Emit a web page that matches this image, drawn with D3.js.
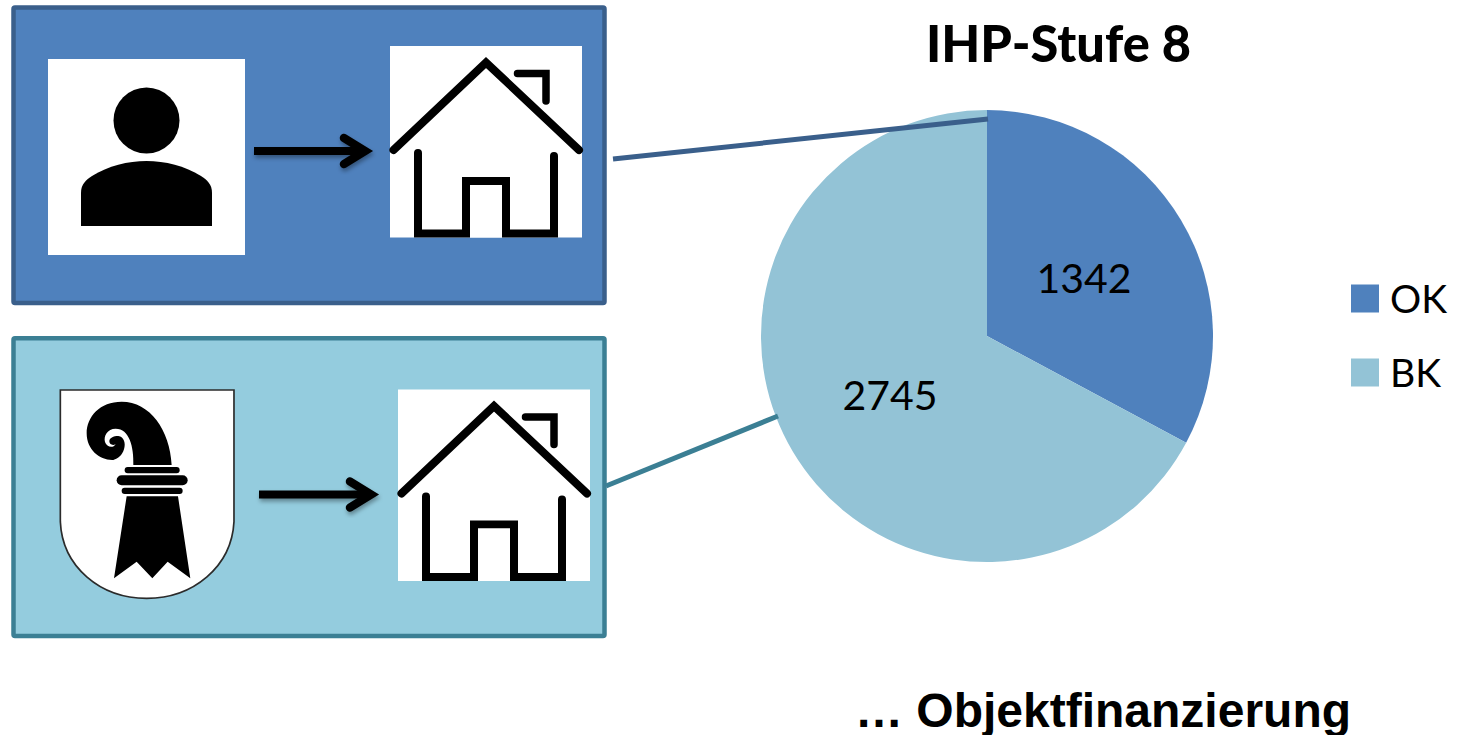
<!DOCTYPE html>
<html>
<head>
<meta charset="utf-8">
<script src="https://cdn.jsdelivr.net/npm/d3@7"></script>
<style>
  html, body { margin: 0; padding: 0; background: #fff; overflow: hidden; }
  svg { display: block; }
</style>
</head>
<body>
<svg width="1462" height="735"></svg>
<script>
var categories = ["OK", "BK"];
var values = [1342, 2745];
var colors = ["#4f81bd", "#93c3d6"];

var svg = d3.select("svg");

var defs = svg.append("defs");
defs.append("filter").attr("id", "arrowShadow")
    .attr("x", "-10%").attr("y", "-40%").attr("width", "120%").attr("height", "180%")
    .append("feDropShadow")
    .attr("dx", 1).attr("dy", 3).attr("stdDeviation", 2)
    .attr("flood-color", "#000").attr("flood-opacity", 0.35);

// the two boxes on the left
function box(x, y, w, h, fill, stroke) {
    svg.append("rect")
       .attr("x", x).attr("y", y).attr("width", w).attr("height", h)
       .attr("rx", 1.5)
       .attr("fill", fill).attr("stroke", stroke).attr("stroke-width", 4.5);
}
box(13.5, 7.5, 591, 295.5, "#4f81bd", "#3a5f8b");
box(13.5, 338.2, 591, 297.8, "#94ccde", "#3b7f94");

// house icon, dx/dy is the offset of the white square
function house(dx, dy) {
    var g = svg.append("g").attr("transform", "translate(" + dx + "," + dy + ")");
    g.append("rect").attr("width", 192).attr("height", 191.5).attr("fill", "#fff");
    var line = function(d, w) {
        g.append("path").attr("d", d).attr("fill", "none").attr("stroke", "#000")
         .attr("stroke-width", w).attr("stroke-linecap", "round").attr("stroke-linejoin", "miter");
    };
    line("M127.5,27.5 H156 V55", 7.5);
    line("M3.5,104 L96,16.5 L189,104", 8);
    line("M28,107 V187.5 H76 V135 H116 V187.5 H164 V110", 8);
    // door gap is open at the bottom edge
    g.append("rect").attr("x", 80).attr("y", 139).attr("width", 32).attr("height", 52.5).attr("fill", "#fff");
    return g;
}
house(390, 46);
house(398, 389.5);

// arrows
function arrow(x1, x2, y) {
    var g = svg.append("g").attr("filter", "url(#arrowShadow)");
    g.append("path")
     .attr("d", "M" + x1 + "," + y + " H" + (x2 - 1))
     .attr("stroke", "#000").attr("stroke-width", 8).attr("fill", "none");
    g.append("path")
     .attr("d", "M" + (x2 - 21) + "," + (y - 13) + " L" + x2 + "," + y + " L" + (x2 - 21) + "," + (y + 13))
     .attr("stroke", "#000").attr("stroke-width", 8.5).attr("fill", "none")
     .attr("stroke-linecap", "round").attr("stroke-linejoin", "miter");
}
arrow(254, 365, 151);
arrow(259, 371, 494.5);

// person
var person = svg.append("g");
person.append("rect").attr("x", 48).attr("y", 59).attr("width", 197).attr("height", 196).attr("fill", "#fff");
person.append("ellipse").attr("cx", 146.5).attr("cy", 120.5).attr("rx", 33).attr("ry", 33).attr("fill", "#000");
person.append("path")
      .attr("d", "M81,226 V193 C81,184 86,180 92,176 C108,166 128,161 146.5,161 C165,161 185,166 201,176 C207,180 212,184 212,193 V226 Z")
      .attr("fill", "#000");

// coat of arms, drawn in 3x units of its own crop
var crest = svg.append("g").attr("transform", "translate(50,380) scale(0.3333)");
crest.append("path")
     .attr("d", "M31,30 H552 V425 C545,560 430,655 290,655 C150,655 37,560 31,425 Z")
     .attr("fill", "#fff").attr("stroke", "#2b2b2b").attr("stroke-width", 5);
crest.append("path")
     .attr("d", "M365,255 C360,150 300,65 215,65 C150,65 110,110 110,160 C110,210 150,242 190,240 L250,255 Z")
     .attr("fill", "#000");
crest.append("path")
     .attr("d", "M250,256 C252,200 238,146 197,146 C172,146 160,168 165,186 C170,202 190,206 197,192 C190,198 178,194 178,184 C178,174 190,168 205,168 C222,170 228,190 222,208 C216,226 205,236 190,240 L190,256 Z")
     .attr("fill", "#fff");
crest.append("rect").attr("x", 224).attr("y", 261).attr("width", 165).attr("height", 19).attr("rx", 9).attr("fill", "#000");
crest.append("rect").attr("x", 200).attr("y", 286).attr("width", 213).attr("height", 30).attr("rx", 15).attr("fill", "#000");
crest.append("rect").attr("x", 215).attr("y", 323).attr("width", 183).attr("height", 19).attr("rx", 9).attr("fill", "#000");
crest.append("path")
     .attr("d", "M230,349 H384 L421,595 L353,545 L307,595 L260,545 L192,595 Z")
     .attr("fill", "#000");

// pie
var radius = 226;
var pie = d3.pie().sort(null);
var arc = d3.arc().innerRadius(0).outerRadius(radius);
var labelArc = d3.arc().innerRadius(radius * 0.5).outerRadius(radius * 0.5);

var gPie = svg.append("g").attr("transform", "translate(987,336)");
gPie.selectAll("path")
    .data(pie(values))
    .enter().append("path")
    .attr("d", arc)
    .attr("fill", function(d, i) { return colors[i]; });

// connector lines, on top of the pie
svg.append("line").attr("x1", 613).attr("y1", 159).attr("x2", 988).attr("y2", 119)
   .attr("stroke", "#3a5f8b").attr("stroke-width", 5);
svg.append("line").attr("x1", 606).attr("y1", 486).attr("x2", 778).attr("y2", 416)
   .attr("stroke", "#3b7f94").attr("stroke-width", 5);

gPie.selectAll("text")
    .data(pie(values))
    .enter().append("text")
    .attr("transform", function(d) {
        var c = labelArc.centroid(d);
        return "translate(" + c[0] + "," + (c[1] + 15.5) + ")";
    })
    .attr("text-anchor", "middle")
    .attr("font-family", "Lato, sans-serif")
    .attr("font-size", 41)
    .attr("fill", "#000")
    .text(function(d) { return d.value; });

// title and footer
svg.append("text")
   .attr("x", 926).attr("y", 62)
   .attr("font-family", "Lato, sans-serif")
   .attr("font-weight", 900)
   .attr("font-size", 52)
   .attr("textLength", 265)
   .attr("lengthAdjust", "spacingAndGlyphs")
   .text("IHP-Stufe 8");

svg.append("text")
   .attr("x", 1103).attr("y", 726.5)
   .attr("text-anchor", "middle")
   .attr("font-family", "'Liberation Sans', Arial, sans-serif")
   .attr("font-weight", 700)
   .attr("font-size", 48)
   .text("… Objektfinanzierung");

// legend
var legend = d3.scaleBand().domain(categories).range([261.5, 409.5]);
var gLegend = svg.append("g");
gLegend.selectAll("rect")
    .data(categories)
    .enter().append("rect")
    .attr("x", 1351)
    .attr("y", function(d) { return legend(d) + legend.bandwidth() / 2 - 14; })
    .attr("width", 28).attr("height", 28)
    .attr("fill", function(d, i) { return colors[i]; });
gLegend.selectAll("text")
    .data(categories)
    .enter().append("text")
    .attr("x", 1390)
    .attr("y", function(d) { return legend(d) + legend.bandwidth() / 2 + 14; })
    .attr("font-family", "Lato, sans-serif")
    .attr("font-size", 39)
    .text(function(d) { return d; });
</script>
</body>
</html>
